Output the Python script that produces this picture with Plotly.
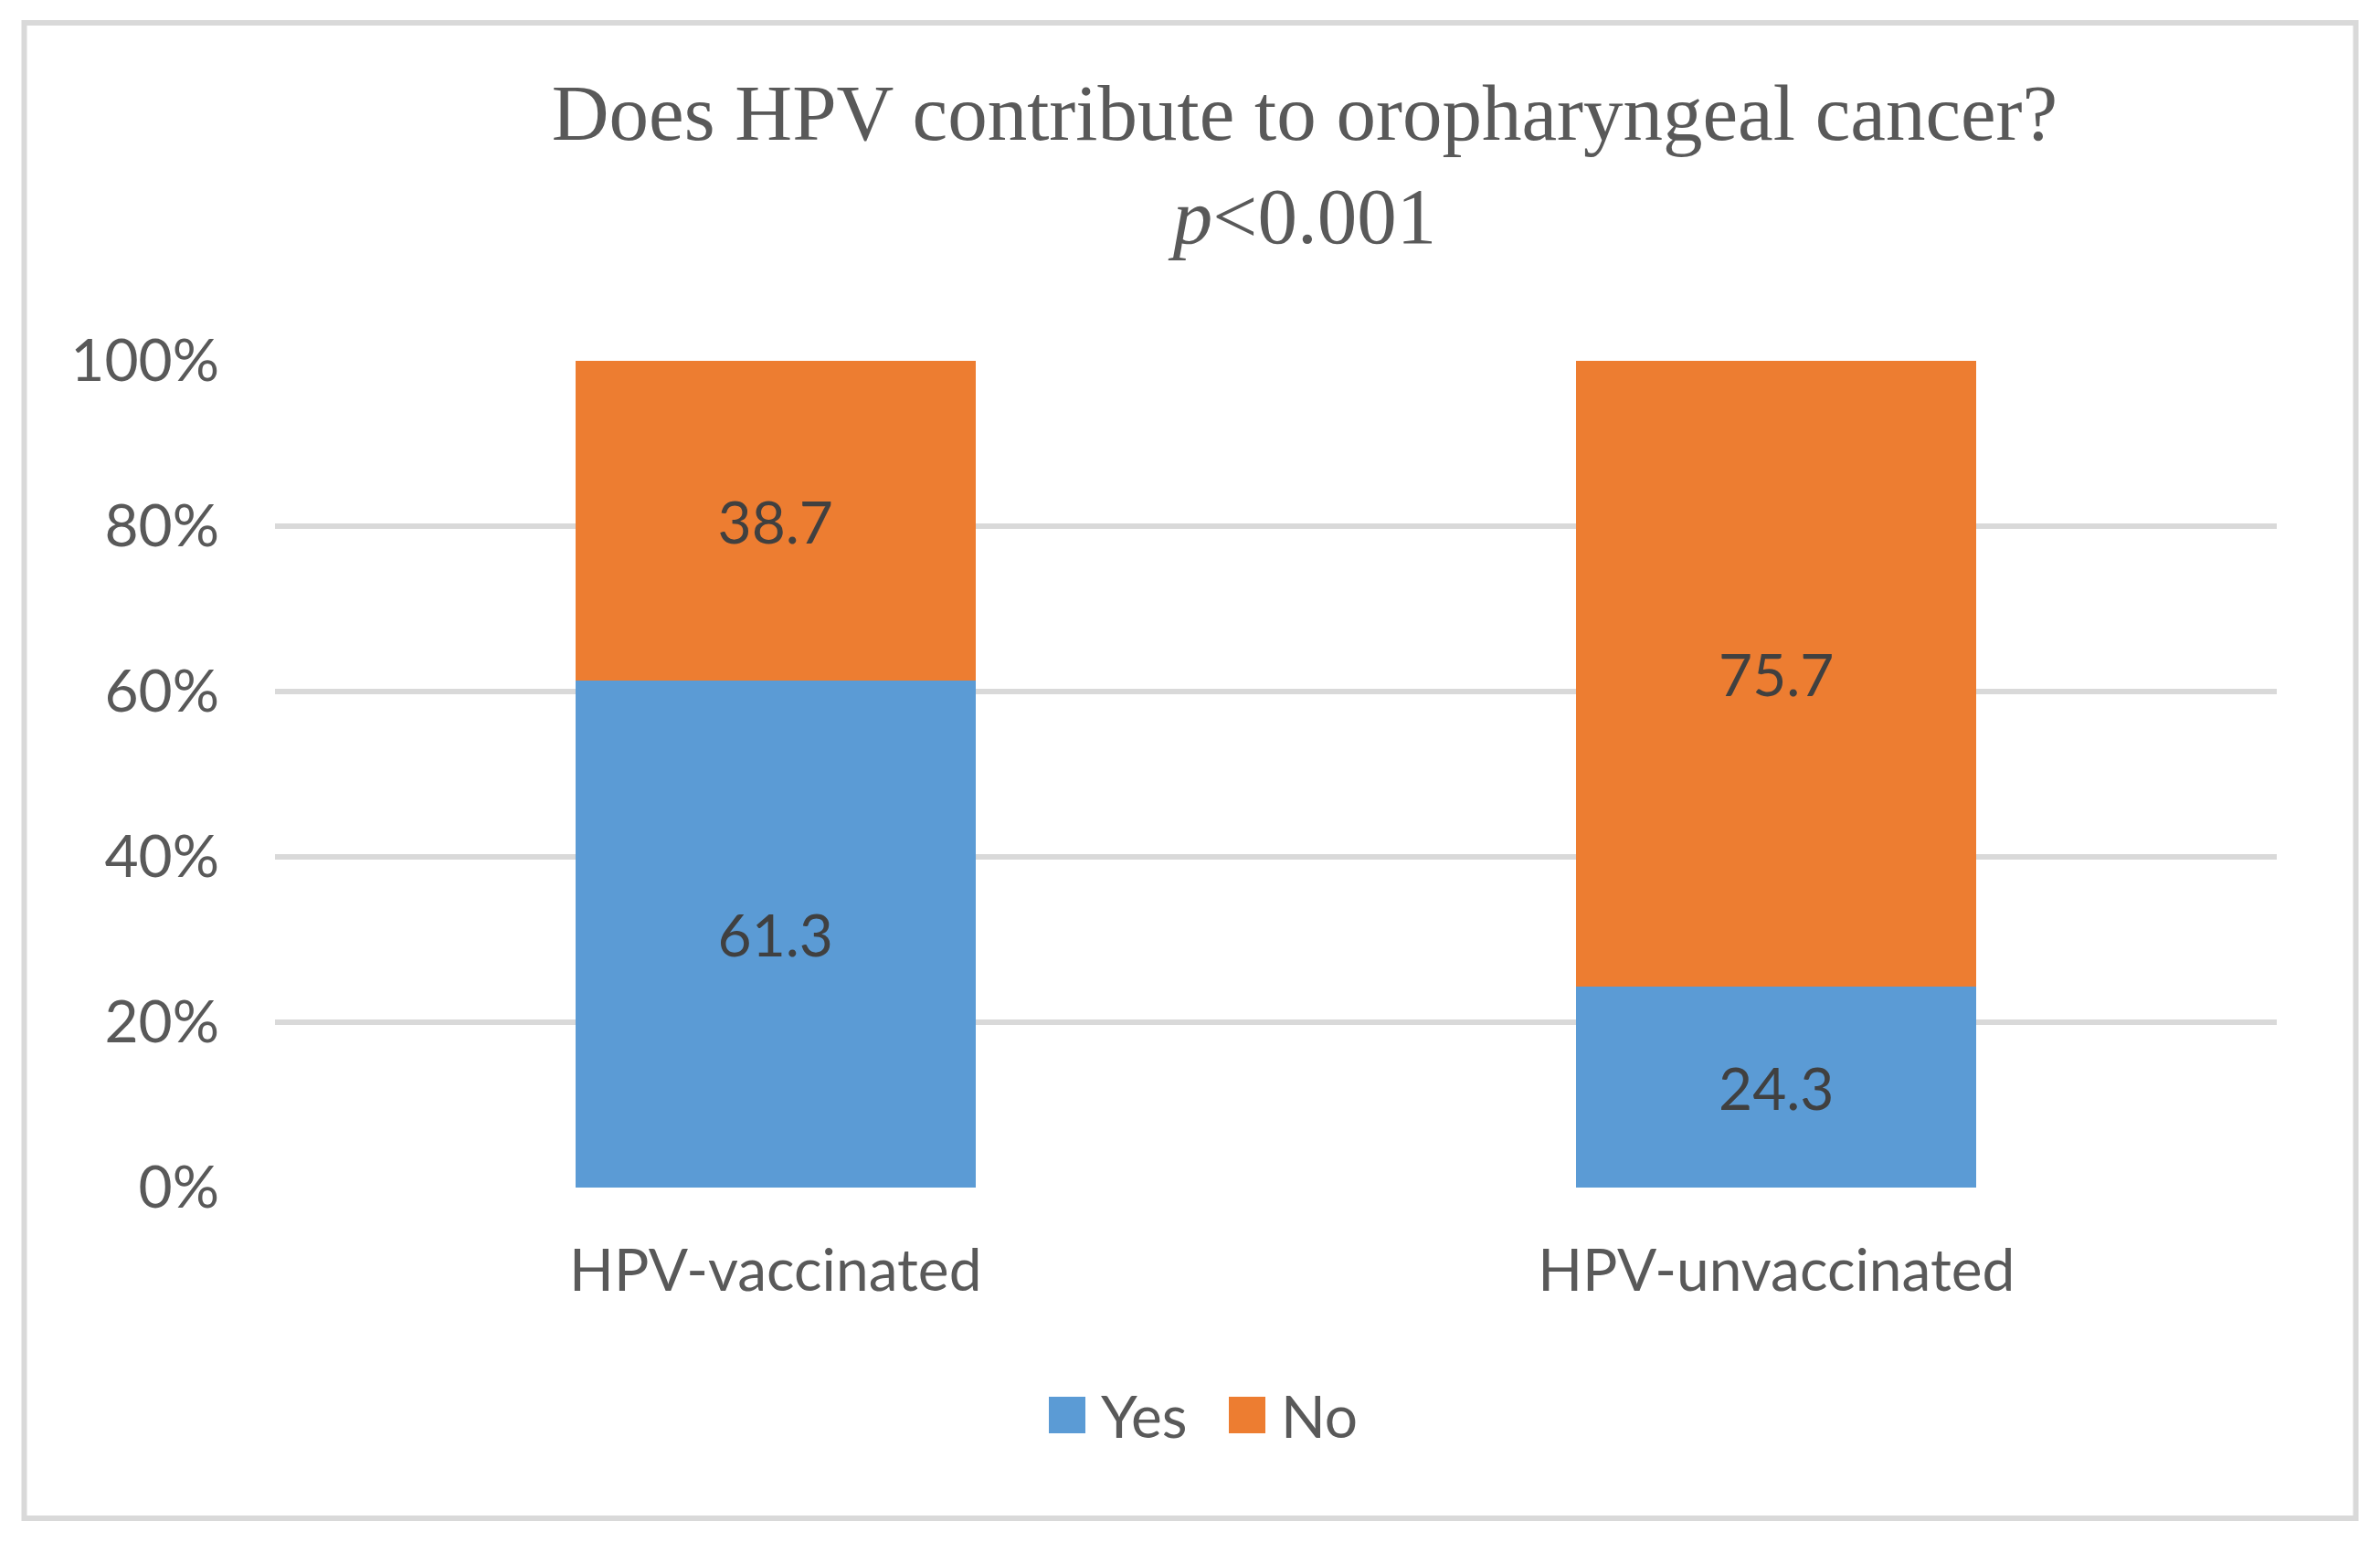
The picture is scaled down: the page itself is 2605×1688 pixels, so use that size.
import plotly.graph_objects as go

categories = ["HPV-vaccinated", "HPV-unvaccinated"]
yes_values = [61.3, 24.3]
no_values = [38.7, 75.7]
tick_values = [0, 20, 40, 60, 80, 100]
tick_labels = ["0%", "20%", "40%", "60%", "80%", "100%"]
series_names = ["Yes", "No"]
series_colors = ["#5B9BD5", "#ED7D31"]

W, H = 2605, 1688
OFF = 8  # page body margin compensation
L, R, T, B = 301 - OFF, 2492 - OFF, 395 - OFF, 1300 - OFF  # plot area in pixels


def xp(px):
    return (px - OFF - L) / (R - L)


def yp(py):
    return (B - (py - OFF)) / (B - T)


SANS = "Lato"
SERIF = "Liberation Serif"
FS = 64

fig = go.Figure()
for name, vals, col in zip(series_names, [yes_values, no_values], series_colors):
    fig.add_trace(go.Bar(
        x=categories, y=vals, name=name,
        marker=dict(color=col, line=dict(width=0)),
        texttemplate="%{y:.1f}", textposition="inside",
        insidetextanchor="middle",
        textfont=dict(family=SANS, size=FS, color="#404040"),
        showlegend=False,
    ))

shapes = [
    dict(type="rect", xref="paper", yref="paper",
         x0=xp(26.5), x1=xp(2578.5), y0=yp(25), y1=yp(1662),
         line=dict(color="#D9D9D9", width=6), fillcolor="rgba(0,0,0,0)", layer="below"),
]
annotations = []
legend_boxes = [1148, 1345]
legend_text_x = [1203, 1400]
for name, col, bx, tx in zip(series_names, series_colors, legend_boxes, legend_text_x):
    shapes.append(dict(type="rect", xref="paper", yref="paper",
                       x0=xp(bx), x1=xp(bx + 40), y0=yp(1569), y1=yp(1529),
                       line=dict(width=0), fillcolor=col))
    annotations.append(dict(text=name, xref="paper", yref="paper",
                            x=xp(tx), y=yp(1549), xanchor="left", yanchor="middle",
                            showarrow=False,
                            font=dict(family=SANS, size=FS, color="#595959")))

fig.update_layout(
    width=W, height=H,
    margin=dict(l=L, r=W - R, t=T, b=H - B, pad=0),
    paper_bgcolor="white", plot_bgcolor="white",
    barmode="stack", bargap=0.6,
    title=dict(
        text="Does HPV contribute to oropharyngeal cancer?<br><i>p</i>&lt;0.001",
        x=(1428 - OFF) / W, xref="container", xanchor="center",
        y=1 - (153 - OFF) / H, yref="container", yanchor="top",
        font=dict(family=SERIF, size=87, color="#595959"),
    ),
    shapes=shapes,
    annotations=annotations,
    xaxis=dict(
        showgrid=False, showline=False, zeroline=False,
        tickfont=dict(family=SANS, size=FS, color="#595959"),
        ticks="", ticklabelstandoff=48,
    ),
    yaxis=dict(
        range=[0, 100], tickvals=tick_values, ticktext=tick_labels,
        showgrid=True, gridcolor="#D9D9D9", gridwidth=6,
        zeroline=False, showline=False,
        tickfont=dict(family=SANS, size=FS, color="#595959"),
        ticks="", ticklabelstandoff=60,
    ),
)

fig.write_html("out.html")
